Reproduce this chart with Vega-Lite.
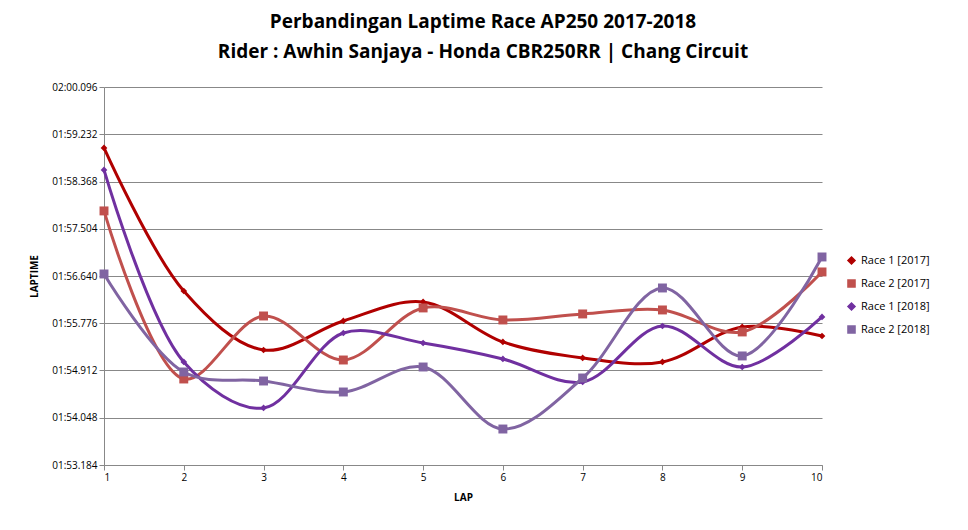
{
  "$schema": "https://vega.github.io/schema/vega-lite/v6.json",
  "autosize": "none",
  "width": 718,
  "height": 378,
  "padding": {"left": 104, "top": 87, "right": 146, "bottom": 65},
  "background": "white",
  "title": {
    "text": ["Perbandingan Laptime  Race AP250 2017-2018", "Rider : Awhin Sanjaya - Honda CBR250RR | Chang Circuit"],
    "font": "Open Sans", "fontSize": 19, "fontWeight": "bold", "color": "black",
    "anchor": "middle", "dx": 20, "offset": 20, "lineHeight": 30
  },
  "data": {"values": [
    {"lap": 1, "series": "Race 1 [2017]", "t": 118.982},
    {"lap": 2, "series": "Race 1 [2017]", "t": 116.366},
    {"lap": 3, "series": "Race 1 [2017]", "t": 115.287},
    {"lap": 4, "series": "Race 1 [2017]", "t": 115.818},
    {"lap": 5, "series": "Race 1 [2017]", "t": 116.165},
    {"lap": 6, "series": "Race 1 [2017]", "t": 115.434},
    {"lap": 7, "series": "Race 1 [2017]", "t": 115.141},
    {"lap": 8, "series": "Race 1 [2017]", "t": 115.068},
    {"lap": 9, "series": "Race 1 [2017]", "t": 115.708},
    {"lap": 10, "series": "Race 1 [2017]", "t": 115.543},
    {"lap": 1, "series": "Race 2 [2017]", "t": 117.830},
    {"lap": 2, "series": "Race 2 [2017]", "t": 114.757},
    {"lap": 3, "series": "Race 2 [2017]", "t": 115.909},
    {"lap": 4, "series": "Race 2 [2017]", "t": 115.104},
    {"lap": 5, "series": "Race 2 [2017]", "t": 116.056},
    {"lap": 6, "series": "Race 2 [2017]", "t": 115.836},
    {"lap": 7, "series": "Race 2 [2017]", "t": 115.946},
    {"lap": 8, "series": "Race 2 [2017]", "t": 116.019},
    {"lap": 9, "series": "Race 2 [2017]", "t": 115.617},
    {"lap": 10, "series": "Race 2 [2017]", "t": 116.714},
    {"lap": 1, "series": "Race 1 [2018]", "t": 118.580},
    {"lap": 2, "series": "Race 1 [2018]", "t": 115.068},
    {"lap": 3, "series": "Race 1 [2018]", "t": 114.227},
    {"lap": 4, "series": "Race 1 [2018]", "t": 115.598},
    {"lap": 5, "series": "Race 1 [2018]", "t": 115.415},
    {"lap": 6, "series": "Race 1 [2018]", "t": 115.123},
    {"lap": 7, "series": "Race 1 [2018]", "t": 114.702},
    {"lap": 8, "series": "Race 1 [2018]", "t": 115.726},
    {"lap": 9, "series": "Race 1 [2018]", "t": 114.976},
    {"lap": 10, "series": "Race 1 [2018]", "t": 115.891},
    {"lap": 1, "series": "Race 2 [2018]", "t": 116.677},
    {"lap": 2, "series": "Race 2 [2018]", "t": 114.885},
    {"lap": 3, "series": "Race 2 [2018]", "t": 114.720},
    {"lap": 4, "series": "Race 2 [2018]", "t": 114.519},
    {"lap": 5, "series": "Race 2 [2018]", "t": 114.976},
    {"lap": 6, "series": "Race 2 [2018]", "t": 113.842},
    {"lap": 7, "series": "Race 2 [2018]", "t": 114.775},
    {"lap": 8, "series": "Race 2 [2018]", "t": 116.421},
    {"lap": 9, "series": "Race 2 [2018]", "t": 115.178},
    {"lap": 10, "series": "Race 2 [2018]", "t": 116.988}
  ]},
  "encoding": {
    "x": {"field": "lap", "type": "quantitative", "title": "LAP",
      "scale": {"domain": [1, 10], "nice": false},
      "axis": {"values": [1,2,3,4,5,6,7,8,9,10], "grid": false, "labelFont": "Open Sans", "labelFontSize": 10, "labelColor": "black",
        "titleFont": "Open Sans", "titleFontSize": 10, "titleFontWeight": "bold", "titleColor": "black", "domainColor": "#888", "tickColor": "#888", "titlePadding": 10}},
    "y": {"field": "t", "type": "quantitative", "title": "LAPTIME",
      "scale": {"domain": [113.184, 120.096], "nice": false, "zero": false},
      "axis": {"values": [113.184, 114.048, 114.912, 115.776, 116.64, 117.504, 118.368, 119.232, 120.096],
        "labelExpr": "'0' + floor(datum.value/60) + ':' + format(datum.value - 60*floor(datum.value/60), '06.3f')",
        "gridColor": "#888", "domainColor": "#888", "tickColor": "#888",
        "labelFont": "Open Sans", "labelFontSize": 10, "labelColor": "black",
        "titleFont": "Open Sans", "titleFontSize": 10, "titleFontWeight": "bold", "titleColor": "black", "titlePadding": 12}},
    "color": {"field": "series", "type": "nominal", "sort": null,
      "scale": {"domain": ["Race 1 [2017]", "Race 2 [2017]", "Race 1 [2018]", "Race 2 [2018]"], "range": ["#B00000", "#C0504D", "#7030A0", "#8064A2"]},
      "legend": {"title": null, "orient": "none", "legendX": 742, "legendY": 168, "labelFont": "Open Sans", "labelFontSize": 11, "labelColor": "black", "rowPadding": 8, "symbolSize": 50}}
  },
  "layer": [
    {"mark": {"type": "line", "interpolate": "catmull-rom", "strokeWidth": 3}},
    {"mark": {"type": "point", "filled": true, "opacity": 1},
      "encoding": {
        "shape": {"field": "series", "type": "nominal",
          "scale": {"domain": ["Race 1 [2017]", "Race 2 [2017]", "Race 1 [2018]", "Race 2 [2018]"], "range": ["diamond", "square", "diamond", "square"]},
          "legend": null},
        "size": {"condition": {"test": "indexof(datum.series, 'Race 2') == 0", "value": 80}, "value": 45}
      }}
  ],
  "config": {"view": {"stroke": null}}
}
